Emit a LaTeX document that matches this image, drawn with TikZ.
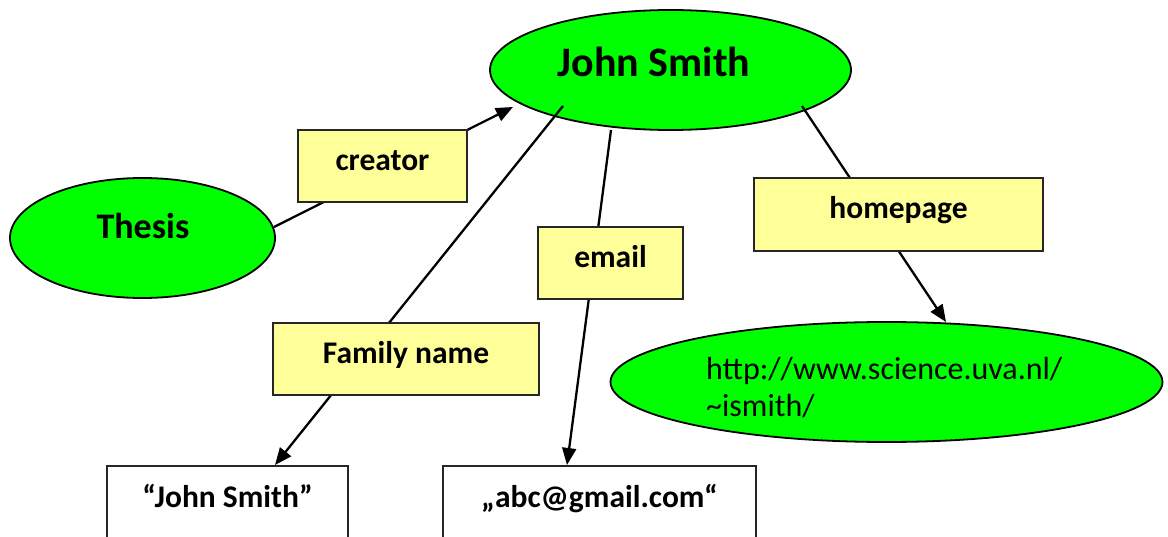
\documentclass[tikz,border=0pt]{standalone}
\usepackage{fontspec}
\setmainfont{Carlito}
\usetikzlibrary{shapes.geometric,arrows.meta}
\definecolor{nodegreen}{HTML}{00FF00}
\definecolor{labelyellow}{HTML}{FFFF99}
\begin{document}
\begin{tikzpicture}[x=1pt,y=-1pt,
  resource/.style={ellipse, draw=black, line width=1.8pt, fill=nodegreen, inner sep=0pt},
  restext/.style={anchor=base, inner sep=0pt},
  property/.style={rectangle, draw=black!85, line width=1.6pt, fill=labelyellow,
    inner sep=0pt, text height=20pt, text depth=11pt,
    font=\bfseries\fontsize{31.5}{38}\selectfont},
  literal/.style={rectangle, draw=black!85, line width=1.6pt, fill=white, anchor=north,
    inner sep=0pt, text height=42pt, text depth=40pt,
    font=\bfseries\fontsize{31.5}{38}\selectfont},
  link/.style={line width=2.3pt, black},
  linkarrow/.style={link, -{Triangle[length=17pt,width=14pt]}}
]
\useasboundingbox (0,0) rectangle (1168,537);
\clip (0,0) rectangle (1168,537);

% resources
\node[resource, minimum width=361pt, minimum height=120pt] (js) at (670.5,70) {};
\node[restext, font=\bfseries\fontsize{42}{50}\selectfont] (jstext) at (654,77) {John Smith};
\node[resource, minimum width=265pt, minimum height=120pt] (thesis) at (142.5,238) {};
\node[restext, font=\bfseries\fontsize{36}{43}\selectfont] (thesistext) at (143,239) {Thesis};
\node[resource, minimum width=552pt, minimum height=120pt] (url) at (886.5,382) {};
% the base anchor of a two-line node sits on its last line
\node[anchor=base west, align=left, inner sep=0pt, font=\fontsize{32}{37}\selectfont]
  (urltext) at (706,417) {http://www.science.uva.nl/\\\textasciitilde ismith/};

% literals (cut off by the lower edge)
\node[literal, minimum width=241pt] (lit1) at (227.5,465) {“John Smith”};
\node[literal, minimum width=313pt] (lit2) at (599.5,465) {„abc@gmail.com“};

% statements
\draw[linkarrow] ([shift={(131.5,-11)}]thesis.center) -- ([shift={(-157.5,37)}]js.center);
\draw[linkarrow] ([shift={(-107.5,36)}]js.center) -- ([shift={(47.5,0)}]lit1.north);
\draw[linkarrow] ([shift={(-59.5,60)}]js.center) -- ([shift={(-32.5,0)}]lit2.north);
\draw[linkarrow] ([shift={(131.5,36)}]js.center) -- ([shift={(59.5,-60)}]url.center);

% property labels on the statements
\node[property, minimum width=169pt, minimum height=72pt] (creator) at (382.5,166) {creator};
\node[property, minimum width=289pt, minimum height=73pt] (homepage) at (898.5,214.5) {homepage};
\node[property, minimum width=145pt, minimum height=72pt] (email) at (610.5,263) {email};
\node[property, minimum width=266pt, minimum height=72pt] (family) at (406,359) {Family name};
\end{tikzpicture}
\end{document}
